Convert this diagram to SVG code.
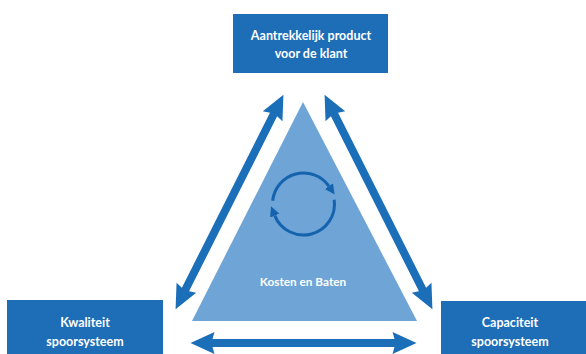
<svg xmlns="http://www.w3.org/2000/svg" width="586" height="354" viewBox="0 0 586 354">
<defs>
<style>
.box{fill:#1d6db7;}
.lbl{fill:#ffffff;font-family:Lato,"Open Sans","Liberation Sans",sans-serif;font-weight:700;font-size:12.5px;text-anchor:middle;}
.arr{fill:#1b6fb9;}
.cyc{fill:none;stroke:#1563ae;stroke-width:3;}
</style>
<marker id="ah" markerUnits="userSpaceOnUse" markerWidth="12" markerHeight="12" refX="0" refY="5" orient="auto" viewBox="0 0 12 10">
<path d="M0,0 L10,5 L0,10 z" fill="#1563ae"/>
</marker>
</defs>
<rect width="586" height="354" fill="#ffffff"/>
<g id="node-triangle">
<polygon points="303,102 192,321 417,321" fill="#6ea4d6"/>
<path class="cyc" d="M272.67,200.76 A31,31 0 0 1 328.89,186.22" marker-end="url(#ah)"/>
<path class="cyc" d="M334.2,199.69 A31,31 0 0 1 274.76,215.61" marker-end="url(#ah)"/>
<text class="lbl" x="303" y="286" style="font-size:11.8px">Kosten en Baten</text>
</g>
<g id="node-top">
<rect class="box" x="233" y="14" width="155" height="59"/>
<text class="lbl" x="311" y="40">Aantrekkelijk product</text>
<text class="lbl" x="311" y="58">voor de klant</text>
</g>
<g id="node-left">
<rect class="box" x="7" y="300" width="156" height="60"/>
<text class="lbl" x="85" y="327">Kwaliteit</text>
<text class="lbl" x="85" y="346">spoorsysteem</text>
</g>
<g id="node-right">
<rect class="box" x="441" y="301" width="150" height="60"/>
<text class="lbl" x="510" y="327">Capaciteit</text>
<text class="lbl" x="510" y="346">spoorsysteem</text>
</g>
<g id="connectors">
<polygon class="arr" transform="translate(229.5,202) rotate(-63.3)" points="-120,0 -96,-11 -98,-4 98,-4 96,-11 120,0 96,11 98,4 -98,4 -96,11"/>
<polygon class="arr" transform="translate(378.5,202) rotate(63.3)" points="-120,0 -96,-11 -98,-4 98,-4 96,-11 120,0 96,11 98,4 -98,4 -96,11"/>
<polygon class="arr" transform="translate(303.5,343)" points="-113,0 -89,-11 -91,-4 91,-4 89,-11 113,0 89,11 91,4 -91,4 -89,11"/>
</g>
</svg>
